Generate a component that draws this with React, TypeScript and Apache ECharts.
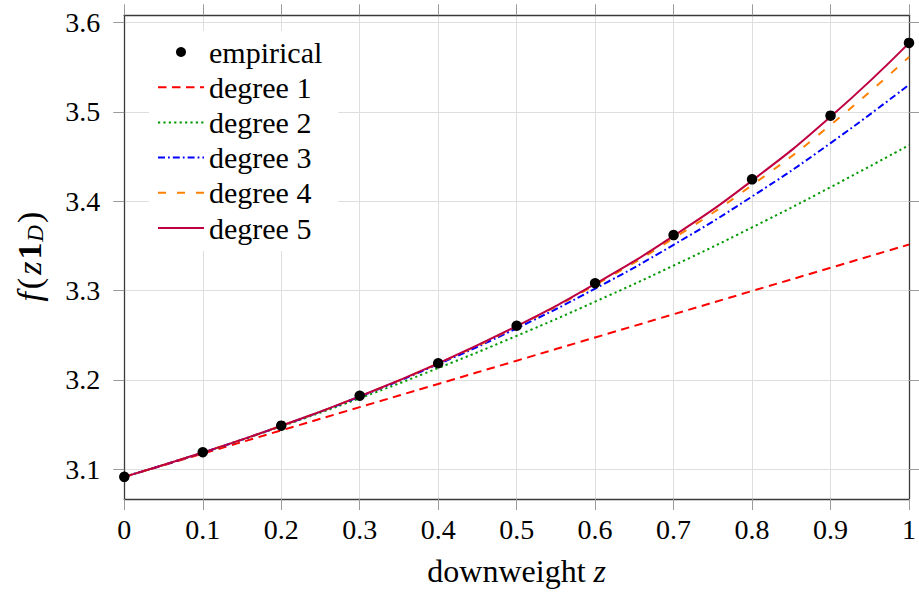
import React, { useEffect, useRef } from "react";
import * as echarts from "echarts";

const zValues = [0, 0.1, 0.2, 0.3, 0.4, 0.5, 0.6, 0.7, 0.8, 0.9, 1];
const empirical = [3.0914, 3.119, 3.1487, 3.1822, 3.2185, 3.2605, 3.3081, 3.362, 3.4244, 3.4957, 3.5771];
const degree1 = [3.0914, 3.1174, 3.1434, 3.1694, 3.1954, 3.2214, 3.2474, 3.2734, 3.2994, 3.3254, 3.3514];
const degree2 = [3.0914, 3.1185, 3.1479, 3.1794, 3.2132, 3.2492, 3.2875, 3.3279, 3.3706, 3.4156, 3.4627];
const degree3 = [3.0914, 3.1186, 3.1484, 3.1812, 3.2175, 3.2577, 3.3021, 3.3511, 3.4052, 3.4649, 3.5303];
const degree4 = [3.0914, 3.1186, 3.1485, 3.1815, 3.2183, 3.2596, 3.3061, 3.3585, 3.4179, 3.4852, 3.5613];
const degree5 = [3.0914, 3.1186, 3.1485, 3.1815, 3.2185, 3.2601, 3.3073, 3.3611, 3.423, 3.4944, 3.5769];

const xTicks = [0, 0.1, 0.2, 0.3, 0.4, 0.5, 0.6, 0.7, 0.8, 0.9, 1];
const yTicks = [3.1, 3.2, 3.3, 3.4, 3.5, 3.6];

const FONT = "Liberation Serif";

const zip = (vals: number[]) => zValues.map((z, i) => [z, vals[i]]);

export default function App() {
  const ref = useRef<HTMLDivElement>(null);
  useEffect(() => {
    if (!ref.current) return;
    const chart = echarts.init(ref.current, null, { renderer: "svg" });
    const axisLineStyle = { color: "#3a3a3a", width: 1.3 };
    const tickStyle = { color: "#9a9a9a", width: 1 };
    const gridStyle = { color: "#dedede", width: 1 };
    const lineSeries = (name: string, vals: number[], color: string, type: any) => ({
      name,
      type: "line",
      data: zip(vals),
      smooth: true,
      symbol: "none",
      showSymbol: false,
      lineStyle: { color, width: 2, type, cap: "butt" },
      itemStyle: { color },
      z: 3,
    });
    const hiddenDot = { color: "transparent", opacity: 0, borderWidth: 0 };
    const serif = (size: number, extra: any = {}) => ({
      fontFamily: FONT,
      fontSize: size,
      fontStyle: "normal",
      fontWeight: "normal",
      color: "#000",
      ...extra,
    });
    chart.setOption({
      animation: false,
      textStyle: { fontFamily: FONT },
      grid: { left: 124.3, right: 7, top: 15.3, bottom: 91, containLabel: false },
      legend: {
        orient: "vertical",
        left: 149,
        top: 31,
        padding: [6, 16, 8, 8],
        backgroundColor: "#ffffff",
        itemWidth: 46,
        itemHeight: 10,
        itemGap: 5.2,
        formatter: (n: string) => `{t|${n}}`,
        textStyle: {
          ...serif(30),
          rich: { t: serif(30) },
        },
        data: [
          { name: "empirical", icon: "circle", itemStyle: { color: "#000", opacity: 1 } },
          { name: "degree 1", itemStyle: hiddenDot },
          { name: "degree 2", itemStyle: hiddenDot },
          { name: "degree 3", itemStyle: hiddenDot },
          { name: "degree 4", itemStyle: hiddenDot },
          { name: "degree 5", itemStyle: hiddenDot },
        ],
      },
      xAxis: [
        {
          type: "value",
          min: 0,
          max: 1,
          interval: 0.1,
          position: "bottom",
          name: "{r|downweight }{it|z}",
          nameLocation: "middle",
          nameGap: 56,
          nameTextStyle: {
            ...serif(32),
            rich: { r: serif(32), it: serif(32, { fontStyle: "italic" }) },
          },
          axisLine: { show: true, onZero: false, lineStyle: axisLineStyle },
          axisTick: { show: true, inside: false, length: 11, lineStyle: tickStyle, customValues: xTicks },
          axisLabel: {
            ...serif(28),
            margin: 16,
            customValues: xTicks,
            formatter: (v: number) => `{t|${Math.round(v * 10) / 10}}`,
            rich: { t: serif(28) },
          },
          splitLine: { show: true, lineStyle: gridStyle },
        },
        {
          type: "value",
          min: 0,
          max: 1,
          interval: 0.1,
          position: "top",
          axisLine: { show: true, onZero: false, lineStyle: axisLineStyle },
          axisTick: { show: true, inside: false, length: 11, lineStyle: tickStyle, customValues: xTicks },
          axisLabel: { show: false },
          splitLine: { show: false },
        },
      ],
      yAxis: [
        {
          type: "value",
          min: 3.0666,
          max: 3.608,
          position: "left",
          name: "{it|f}{r|(}{it|z}{bf|1}{sub|D}{r|)}",
          nameLocation: "middle",
          nameRotate: 90,
          nameGap: 77,
          nameTextStyle: {
            ...serif(34),
            rich: {
              r: serif(34, { padding: [0, 1, 0, 1] }),
              it: serif(34, { fontStyle: "italic", padding: [0, 2, 0, 2] }),
              bf: serif(34, { fontWeight: "bold" }),
              sub: serif(23, { fontStyle: "italic", verticalAlign: "bottom", padding: [12, 1, 0, 1] }),
            },
          },
          axisLine: { show: true, onZero: false, lineStyle: axisLineStyle },
          axisTick: { show: true, inside: false, length: 11, lineStyle: tickStyle, customValues: yTicks },
          axisLabel: {
            ...serif(28),
            margin: 24,
            customValues: yTicks,
            formatter: (v: number) => `{t|${v.toFixed(1)}}`,
            rich: { t: serif(28) },
          },
          splitLine: { show: true, lineStyle: gridStyle },
        },
        {
          type: "value",
          min: 3.0666,
          max: 3.608,
          position: "right",
          axisLine: { show: true, onZero: false, lineStyle: axisLineStyle },
          axisTick: { show: true, inside: false, length: 11, lineStyle: tickStyle, customValues: yTicks },
          axisLabel: { show: false },
          splitLine: { show: false },
        },
      ],
      series: [
        {
          name: "empirical",
          type: "scatter",
          data: zip(empirical),
          symbol: "circle",
          symbolSize: 10.5,
          itemStyle: { color: "#000", opacity: 1 },
          z: 5,
        },
        lineSeries("degree 1", degree1, "#ff0000", [8.5, 5.5]),
        lineSeries("degree 2", degree2, "#009900", [2.2, 3.2]),
        lineSeries("degree 3", degree3, "#0000ff", [7, 3, 1.8, 3]),
        lineSeries("degree 4", degree4, "#ff8000", [8, 11]),
        lineSeries("degree 5", degree5, "#bf0040", "solid"),
      ],
    });
    return () => chart.dispose();
  }, []);
  return (
    <div
      ref={ref}
      style={{ position: "fixed", left: 0, top: 0, width: 919, height: 592, background: "#fff" }}
    />
  );
}
